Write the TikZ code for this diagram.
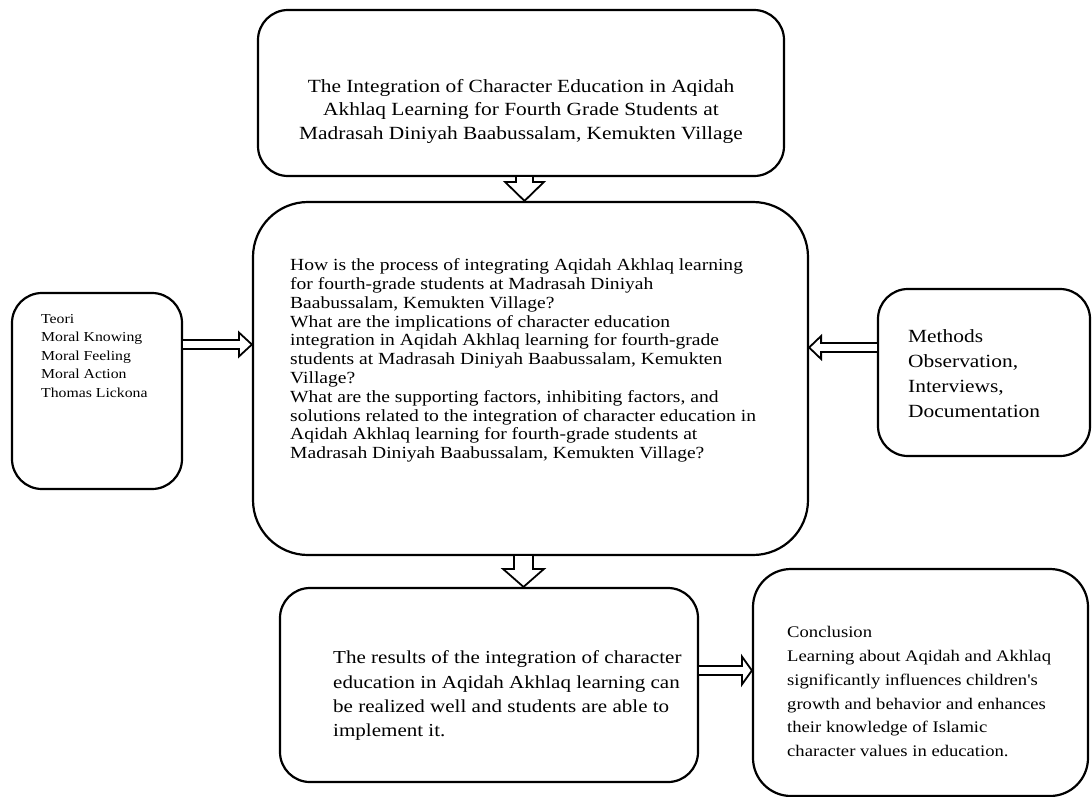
\documentclass[tikz,border=0pt]{standalone}
\usepackage{fontspec}
\usepackage{graphicx}
\setmainfont{Liberation Serif}
\usetikzlibrary{calc}
\newcommand{\dblk}[5]{% down block arrow: start, end, shaft half, head half, head length
  \draw[blockarrow] let \p1=(#1), \p2=(#2) in
    (\x1-#3,\y1) -- (\x1-#3,\y2+#5) -- (\x1-#4,\y2+#5) -- (\x1,\y2)
    -- (\x1+#4,\y2+#5) -- (\x1+#3,\y2+#5) -- (\x1+#3,\y1);}
\newcommand{\rblk}[5]{% rightward block arrow
  \draw[blockarrow] let \p1=(#1), \p2=(#2) in
    (\x1,\y1+#3) -- (\x2-#5,\y1+#3) -- (\x2-#5,\y1+#4) -- (\x2,\y1)
    -- (\x2-#5,\y1-#4) -- (\x2-#5,\y1-#3) -- (\x1,\y1-#3);}
\newcommand{\lblk}[5]{% leftward block arrow
  \draw[blockarrow] let \p1=(#1), \p2=(#2) in
    (\x1,\y1+#3) -- (\x2+#5,\y1+#3) -- (\x2+#5,\y1+#4) -- (\x2,\y1)
    -- (\x2+#5,\y1-#4) -- (\x2+#5,\y1-#3) -- (\x1,\y1-#3);}
% wide text block: alignment, lines
\newcommand{\wtext}[2]{\scalebox{1.15}[1]{\begin{tabular}{@{}#1@{}}#2\end{tabular}}}
\begin{document}
\begin{tikzpicture}[x=1pt,y=-1pt,
  box/.style={draw,line width=2.2pt,rounded corners=30pt,inner sep=0pt},
  blockarrow/.style={draw,line width=1.8pt,fill=white,line join=miter},
  txt/.style={inner sep=0pt,anchor=west}]
\useasboundingbox (0,0) rectangle (1092,796);
% boxes
\node[box,minimum width=526pt,minimum height=166pt] (top) at (521,93) {};
\node[box,rounded corners=55pt,minimum width=555pt,minimum height=353pt] (mid) at (530.5,378.5) {};
\node[box,minimum width=170pt,minimum height=196pt] (lft) at (97,391) {};
\node[box,minimum width=212pt,minimum height=167pt] (rgt) at (984,372.5) {};
\node[box,minimum width=418pt,minimum height=194pt] (bl) at (489,685) {};
\node[box,rounded corners=38pt,minimum width=335pt,minimum height=227pt] (br) at (920.5,682.5) {};
% texts
\node[inner sep=0pt,font=\fontsize{18.6}{23.5}\selectfont] (toptxt) at (521,111)
  {\wtext{c}{The Integration of Character Education in Aqidah\\
   Akhlaq Learning for Fourth Grade Students at\\
   Madrasah Diniyah Baabussalam, Kemukten Village}};
\node[txt,font=\fontsize{17}{18.8}\selectfont] (midtxt) at (290,361)
  {\wtext{l}{How is the process of integrating Aqidah Akhlaq learning\\
   for fourth-grade students at Madrasah Diniyah\\
   Baabussalam, Kemukten Village?\\
   What are the implications of character education\\
   integration in Aqidah Akhlaq learning for fourth-grade\\
   students at Madrasah Diniyah Baabussalam, Kemukten\\
   Village?\\
   What are the supporting factors, inhibiting factors, and\\
   solutions related to the integration of character education in\\
   Aqidah Akhlaq learning for fourth-grade students at\\
   Madrasah Diniyah Baabussalam, Kemukten Village?}};
\node[txt,font=\fontsize{13.7}{18.5}\selectfont] (lfttxt) at (41,356.5)
  {\wtext{l}{Teori\\ Moral Knowing\\ Moral Feeling\\ Moral Action\\ Thomas Lickona}};
\node[txt,font=\fontsize{18.6}{25}\selectfont] (rgttxt) at (908,374.5)
  {\wtext{l}{Methods\\ Observation,\\ Interviews,\\ Documentation}};
\node[txt,font=\fontsize{18.3}{24.3}\selectfont] (bltxt) at (333,695.5)
  {\wtext{l}{The results of the integration of character\\
   education in Aqidah Akhlaq learning can\\
   be realized well and students are able to\\
   implement it.}};
\node[txt,font=\fontsize{16.2}{23.8}\selectfont] (brtxt) at (787,692.5)
  {\wtext{l}{Conclusion\\
   Learning about Aqidah and Akhlaq\\
   significantly influences children\textquotesingle s\\
   growth and behavior and enhances\\
   their knowledge of Islamic\\
   character values in education.}};
% arrows
\coordinate (a1s) at (top.south -| 524.5,0);
\coordinate (a1e) at (mid.north -| 524.5,0);
\dblk{a1s}{a1e}{8.5pt}{19.5pt}{19pt}
\coordinate (a2s) at (lft.east |- 0,344.5);
\coordinate (a2e) at (mid.west |- 0,344.5);
\rblk{a2s}{a2e}{4.5pt}{12pt}{13pt}
\coordinate (a3s) at (rgt.west |- 0,347.5);
\coordinate (a3e) at (mid.east |- 0,347.5);
\lblk{a3s}{a3e}{4.5pt}{11.5pt}{12pt}
\coordinate (a4s) at (mid.south -| 523.5,0);
\coordinate (a4e) at (bl.north -| 523.5,0);
\dblk{a4s}{a4e}{9.5pt}{20.5pt}{18pt}
\coordinate (a5s) at (bl.east |- 0,670.5);
\coordinate (a5e) at (br.west |- 0,670.5);
\rblk{a5s}{a5e}{4.5pt}{14pt}{10pt}
\end{tikzpicture}
\end{document}
